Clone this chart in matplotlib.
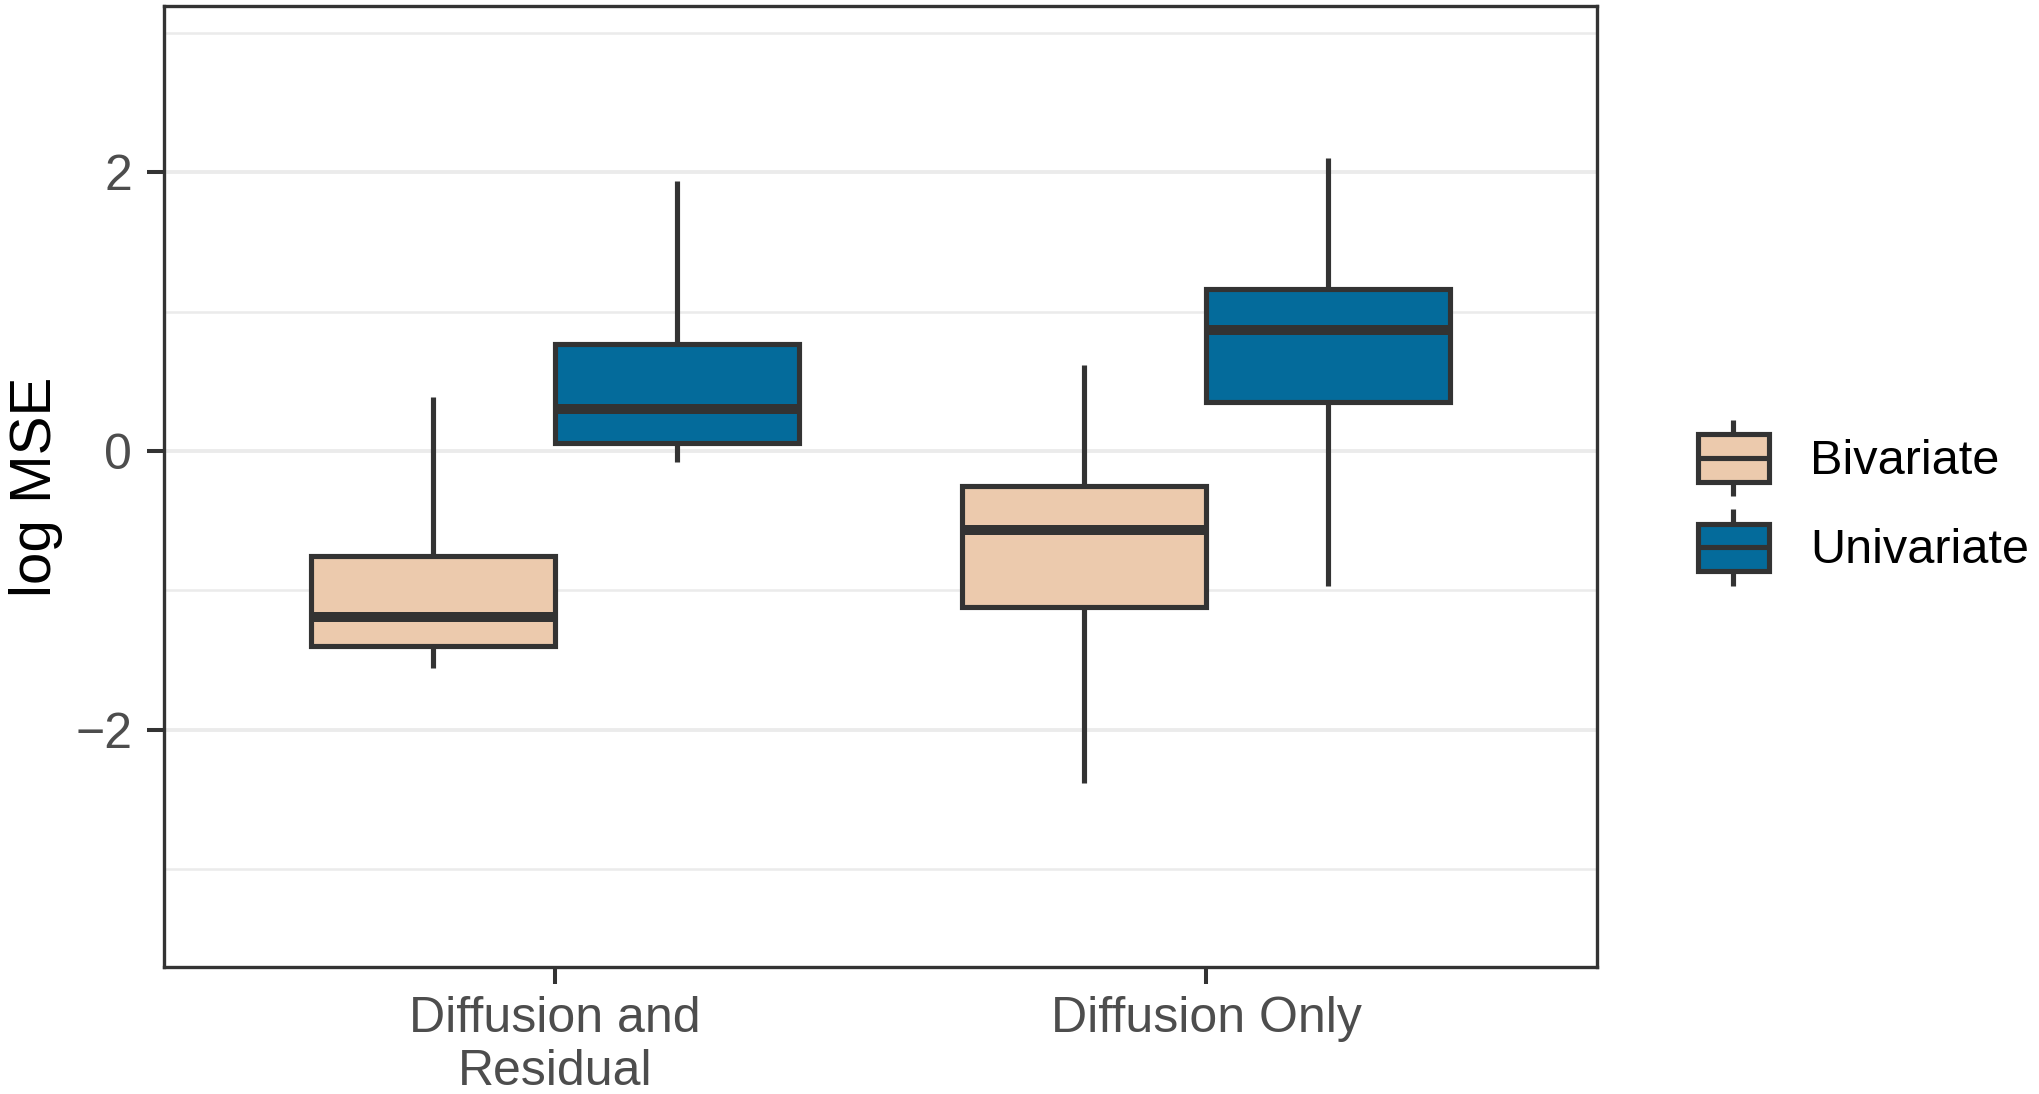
import matplotlib
matplotlib.use("Agg")
import matplotlib.pyplot as plt
from matplotlib.legend_handler import HandlerBase
from matplotlib.patches import Rectangle, Patch
from matplotlib.lines import Line2D

plt.rcParams['font.family'] = ['Liberation Sans', 'DejaVu Sans']

# ---- data ----
categories = ["Diffusion and\nResidual", "Diffusion Only"]
groups = ["Bivariate", "Univariate"]
colors = {"Bivariate": "#ECCAAD", "Univariate": "#046B9B"}

whislo = {"Bivariate": [-1.56, -2.38], "Univariate": [-0.08, -0.965]}
q1     = {"Bivariate": [-1.40, -1.12], "Univariate": [0.055, 0.355]}
med    = {"Bivariate": [-1.19, -0.565], "Univariate": [0.305, 0.867]}
q3     = {"Bivariate": [-0.755, -0.25], "Univariate": [0.765, 1.166]}
whishi = {"Bivariate": [0.385, 0.62], "Univariate": [1.935, 2.10]}

y_major = [-2, 0, 2]
y_minor = [-3, -1, 1, 3]

EDGE = "#333333"
LW = 3.7
MED_LW = 7.2

fig = plt.figure(figsize=(20.4, 10.94), dpi=100)
ax = fig.add_axes([0.0806, 0.1164, 0.7021, 0.8777])

dodge = 0.375
for gi, g in enumerate(groups):
    stats = []
    for ci in range(len(categories)):
        stats.append(dict(whislo=whislo[g][ci], q1=q1[g][ci], med=med[g][ci],
                          q3=q3[g][ci], whishi=whishi[g][ci], fliers=[]))
    pos = [ci + 1 + (gi - 0.5) * dodge for ci in range(len(categories))]
    ax.bxp(stats, positions=pos, widths=dodge, patch_artist=True,
           showcaps=False, showfliers=False, manage_ticks=False,
           boxprops=dict(facecolor=colors[g], edgecolor=EDGE, linewidth=LW),
           whiskerprops=dict(color=EDGE, linewidth=LW, solid_capstyle='butt'),
           medianprops=dict(color=EDGE, linewidth=MED_LW, solid_capstyle='butt'),
           zorder=3)

ax.set_xlim(0.4, 2.6)
ax.set_ylim(-3.70, 3.19)
ax.set_xticks([1, 2])
ax.set_xticklabels(categories, linespacing=1.2)
ax.set_yticks(y_major)
ax.set_yticklabels(["\u22122", "0", "2"])
ax.set_yticks(y_minor, minor=True)
ax.yaxis.grid(True, which='major', color="#EBEBEB", linewidth=2.8, zorder=0)
ax.yaxis.grid(True, which='minor', color="#EBEBEB", linewidth=1.8, zorder=0)
ax.xaxis.grid(False)
ax.set_axisbelow(True)
ax.tick_params(axis='both', which='major', length=12.2, width=2.9, color=EDGE,
               labelsize=36, labelcolor="#4D4D4D")
ax.tick_params(axis='y', which='major', pad=11)
ax.tick_params(axis='x', which='major', pad=9)
ax.tick_params(axis='y', which='minor', length=0)
for s in ax.spines.values():
    s.set_color(EDGE)
    s.set_linewidth(2.4)

ax.set_ylabel("log MSE", fontsize=42, color="black")
ax.yaxis.set_label_coords(-0.071, 0.5)


class BoxHandler(HandlerBase):
    def create_artists(self, legend, orig_handle, xdescent, ydescent,
                       width, height, fontsize, trans):
        fc = orig_handle.get_facecolor()
        x0 = -xdescent
        cy = height / 2 - ydescent
        bh = fontsize * 0.97
        half_w = fontsize * 0.79
        by = cy - bh / 2
        cx = x0 + width / 2
        wl = Line2D([cx, cx], [cy - half_w, by], color=EDGE, lw=LW,
                    transform=trans, solid_capstyle='butt')
        wh = Line2D([cx, cx], [by + bh, cy + half_w], color=EDGE, lw=LW,
                    transform=trans, solid_capstyle='butt')
        r = Rectangle((x0, by), width, bh, facecolor=fc, edgecolor=EDGE,
                      lw=LW, transform=trans)
        m = Line2D([x0, x0 + width], [cy, cy], color=EDGE,
                   lw=LW, transform=trans, solid_capstyle='butt')
        return [wl, wh, r, m]


handles = [Patch(facecolor=colors[g]) for g in groups]
fig.legend(handles, groups, loc='center left', bbox_to_anchor=(0.8324, 0.5402),
           frameon=False, fontsize=35, handler_map={Patch: BoxHandler()},
           handlelength=1.45, handleheight=1.23, labelspacing=0.77,
           handletextpad=0.85, borderpad=0, borderaxespad=0)

fig.savefig("out.png", dpi=100)
